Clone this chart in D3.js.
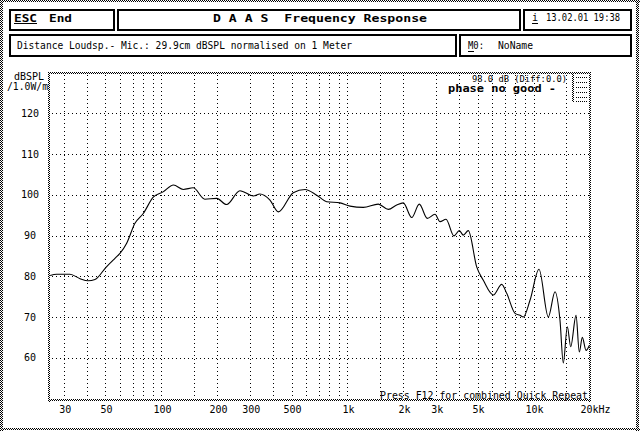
<!DOCTYPE html>
<html><head><meta charset="utf-8">
<script src="https://cdn.jsdelivr.net/npm/d3@7"></script>
<style>
html,body{margin:0;padding:0;background:#fff;}
svg{display:block;}
text{font-family:"DejaVu Sans Mono","Liberation Mono",monospace;font-size:10px;fill:#000;white-space:pre;}
.b{font-weight:bold;}
.s{font-size:9px;}
</style></head>
<body>
<script>
// ---- data ----
const freqs = [25.2, 27.3, 32.2, 36.5, 40.3, 43.9, 50.3, 56.2, 59.8, 65.0, 72.0, 79.8, 90.3, 102, 116, 131, 148, 171, 198, 224, 264, 312, 338, 383, 425, 511, 591, 683, 773, 911, 1031, 1216, 1464, 1658, 1839, 1995, 2215, 2432, 2685, 2954, 3144, 3385, 3737, 3993, 4194, 4461, 4950, 5372, 6079, 6745, 7177, 7956, 8459, 8814, 9576, 10706, 12010, 13050, 13880, 14460, 15200, 15850, 16930, 17630, 18300, 19160, 19950];
const splValues = [80.2, 80.5, 80.5, 79.4, 78.9, 79.2, 82.2, 84.4, 85.6, 88.1, 93.0, 95.4, 99.4, 100.7, 102.4, 101.3, 101.7, 98.9, 99.1, 97.6, 101.0, 99.7, 100.2, 98.7, 95.8, 100.5, 101.3, 99.9, 98.3, 98.0, 97.2, 96.9, 97.7, 96.4, 97.5, 98.0, 94.4, 97.7, 94.2, 95.2, 93.4, 94.0, 89.9, 91.2, 90.1, 91.2, 82.3, 79.0, 75.4, 78.0, 75.8, 70.9, 70.4, 70.0, 74.1, 81.7, 70.0, 76.2, 69.2, 58.7, 67.6, 62.7, 70.4, 61.4, 65.0, 61.8, 63.0];
const xTickValues = [30, 50, 100, 200, 300, 500, 1000, 2000, 3000, 5000, 10000, 20000];
const xTickLabels = ["30", "50", "100", "200", "300", "500", "1k", "2k", "3k", "5k", "10k", "20k"];
const gridMultipliers = [1, 1.5, 2, 3, 4, 5, 6, 7, 8, 9];
const gridDecades = [10, 100, 1000, 10000];
const yTickValues = [60, 70, 80, 90, 100, 110, 120];

const W = 640, H = 431;
const svg = d3.select("body").append("svg").attr("width", W).attr("height", H);
const defs = svg.append("defs");
const pat = defs.append("pattern").attr("id", "dith").attr("patternUnits", "userSpaceOnUse")
  .attr("width", 2).attr("height", 2);
pat.append("rect").attr("width", 2).attr("height", 2).attr("fill", "#fff");
pat.append("rect").attr("x", 0).attr("y", 0).attr("width", 1).attr("height", 1).attr("fill", "#000");
pat.append("rect").attr("x", 1).attr("y", 1).attr("width", 1).attr("height", 1).attr("fill", "#000");

svg.append("rect").attr("width", W).attr("height", H).attr("fill", "#fff");
// outer dithered frame
svg.append("rect").attr("x", 0).attr("y", 0).attr("width", 3).attr("height", H).attr("fill", "url(#dith)");
svg.append("rect").attr("x", 0).attr("y", 0).attr("width", W).attr("height", 2).attr("fill", "url(#dith)");
svg.append("rect").attr("x", 636).attr("y", 0).attr("width", 3).attr("height", H).attr("fill", "url(#dith)");
svg.append("rect").attr("x", 0).attr("y", 428).attr("width", W).attr("height", 2).attr("fill", "url(#dith)");

// header boxes
const boxes = [[9, 9, 106, 22], [117, 9, 404, 22], [523, 9, 109, 22], [9, 34, 448, 23], [459, 34, 173, 23]];
svg.selectAll("rect.box").data(boxes).join("rect").attr("class", "box")
  .attr("x", d => d[0] + 1).attr("y", d => d[1] + 1).attr("width", d => d[2] - 2).attr("height", d => d[3] - 2)
  .attr("fill", "#fff").attr("stroke", "#000").attr("stroke-width", 2);

function txt(x, y, s, cls, len) {
  const t = svg.append("text").attr("x", x).attr("y", y).text(s);
  if (cls) t.attr("class", cls);
  if (len) t.attr("textLength", len).attr("lengthAdjust", "spacingAndGlyphs");
  return t;
}
txt(14, 22, "ESC", "b", 23);
svg.append("line").attr("x1", 14).attr("x2", 37).attr("y1", 23.5).attr("y2", 23.5).attr("stroke", "#000");
txt(49, 22, "End", "b", 23);
txt(213, 22, "D A A S  Frequency Response", "b", 214);
txt(532, 21, "i", null);
svg.append("line").attr("x1", 532).attr("x2", 538).attr("y1", 23.5).attr("y2", 23.5).attr("stroke", "#000");
txt(546, 21, "13.02.01 19:38", null, 74);
txt(17, 49, "Distance Loudsp.- Mic.: 29.9cm dBSPL normalised on 1 Meter", null, 335);
txt(468, 49, "M0:", null, 16);
svg.append("line").attr("x1", 468).attr("x2", 474).attr("y1", 51.5).attr("y2", 51.5).attr("stroke", "#000");
txt(498, 49, "NoName", null, 35);

// scales
const x = d3.scaleLog().domain([25, 20000]).range([49.5, 589.5]);
const y = d3.scaleLinear().domain([50, 130]).range([398.5, 72.5]);
const pl = 49, pr = 590, pt = 72, pb = 400;

// grid
const gridFreqs = [];
gridDecades.forEach(d => gridMultipliers.forEach(m => { const f = d * m; if (f > 25 && f < 20000) gridFreqs.push(f); }));
const grid = svg.append("g").attr("shape-rendering", "crispEdges").attr("stroke", "#000").attr("stroke-dasharray", "1,3");
grid.selectAll("line.v").data(gridFreqs).join("line").attr("class", "v")
  .attr("x1", d => Math.round(x(d)) + 0.5).attr("x2", d => Math.round(x(d)) + 0.5)
  .attr("y1", pt + 3).attr("y2", pb);
grid.selectAll("line.h").data(yTickValues).join("line").attr("class", "h")
  .attr("y1", d => Math.round(y(d)) + 0.5).attr("y2", d => Math.round(y(d)) + 0.5)
  .attr("x1", pl + 3).attr("x2", pr);

// plot border (dithered)
svg.append("rect").attr("x", pl - 1).attr("y", pt).attr("width", 2).attr("height", pb - pt + 2).attr("fill", "url(#dith)");
svg.append("rect").attr("x", pr - 1).attr("y", pt).attr("width", 2).attr("height", pb - pt + 2).attr("fill", "url(#dith)");
svg.append("rect").attr("x", pl - 1).attr("y", pt).attr("width", pr - pl + 2).attr("height", 2).attr("fill", "url(#dith)");
svg.append("rect").attr("x", pl - 1).attr("y", pb - 1).attr("width", pr - pl + 2).attr("height", 2).attr("fill", "url(#dith)");

// small widget top right
svg.append("rect").attr("x", 572).attr("y", pt).attr("width", 2).attr("height", 30).attr("fill", "url(#dith)");
svg.append("g").attr("shape-rendering", "crispEdges").attr("stroke", "#000").attr("stroke-dasharray", "1,1")
  .selectAll("line").data([77, 82, 87, 92, 97, 101]).join("line")
  .attr("x1", 576).attr("x2", 588).attr("y1", d => d + 0.5).attr("y2", d => d + 0.5);

// axis labels
txt(14, 80, "dBSPL", null);
txt(7, 90, "/1.0W/m", null, 41);
svg.selectAll("text.yl").data(yTickValues).join("text").attr("class", "yl")
  .attr("x", 30).attr("y", d => y(d) + 3.5).attr("text-anchor", "middle").text(d => d);
svg.selectAll("text.xl").data(xTickValues).join("text").attr("class", "xl")
  .attr("x", (d, i) => i === xTickValues.length - 1 ? x(d) - 9 : x(d) + 1)
  .attr("y", 413)
  .attr("text-anchor", (d, i) => i === xTickValues.length - 1 ? "start" : "middle")
  .text((d, i) => i === xTickValues.length - 1 ? xTickLabels[i] + "Hz" : xTickLabels[i]);

// info text
txt(472, 82, "98.0 dB (Diff:0.0)", "s", 95);
txt(448, 92, "phase no good -", "b", 108);
txt(380, 399, "Press F12 for combined Quick Repeat", null, 208);

// curve
const data = freqs.map((f, i) => [f, splValues[i]]);
const line = d3.line().x(d => x(d[0])).y(d => y(d[1])).curve(d3.curveMonotoneX);
svg.append("path").datum(data).attr("d", line).attr("fill", "none").attr("stroke", "#000").attr("stroke-width", 1.1);
</script>
</body></html>
